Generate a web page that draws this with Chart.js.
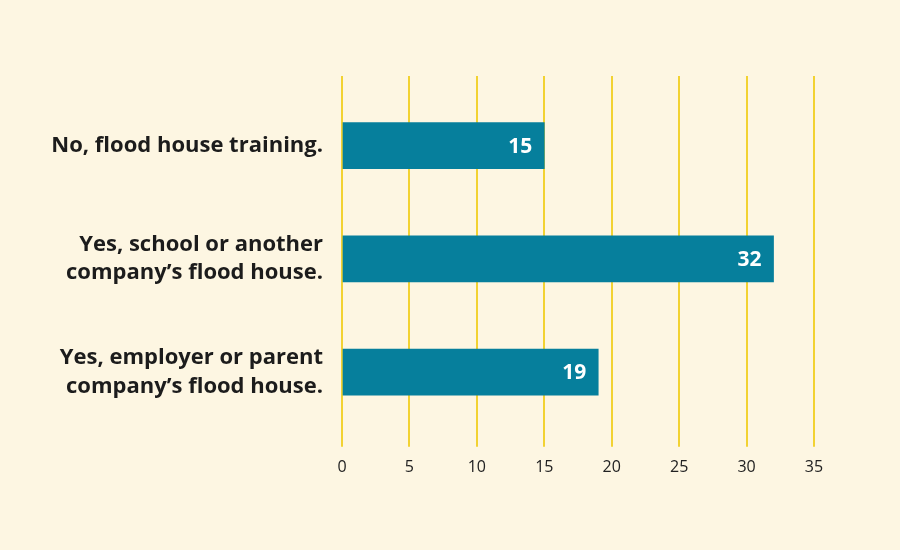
<!DOCTYPE html>
<html>
<head>
<meta charset="utf-8">
<script src="https://cdn.jsdelivr.net/npm/chart.js@4/dist/chart.umd.min.js"></script>
<style>
  html, body { margin: 0; padding: 0; background: #fdf6e2; }
  #wrap { width: 900px; height: 550px; position: relative; }
</style>
</head>
<body>
<div id="wrap"><canvas id="chart"></canvas></div>
<script>
// Flood house training survey - horizontal bars

const categories = [
  ["No, flood house training."],
  ["Yes, school or another", "company\u2019s flood house."],
  ["Yes, employer or parent", "company\u2019s flood house."],
];
const counts = [15, 32, 19];
const xTicks = [0, 5, 10, 15, 20, 25, 30, 35];

const labelFont = "'Open Sans', sans-serif";

// white value labels at the end of each bar
const valueLabels = {
  id: "valueLabels",
  afterDatasetsDraw(chart) {
    const ctx = chart.ctx;
    const meta = chart.getDatasetMeta(0);
    ctx.save();
    ctx.fillStyle = "#ffffff";
    ctx.font = "700 21px " + labelFont;
    ctx.textAlign = "right";
    ctx.textBaseline = "middle";
    meta.data.forEach((bar, i) => {
      ctx.fillText(String(counts[i]), bar.x - 12, bar.y + 1);
    });
    ctx.restore();
  },
};

new Chart(document.getElementById("chart"), {
  type: "bar",
  data: {
    labels: categories,
    datasets: [
      {
        data: counts,
        backgroundColor: "#067f9c",
        borderWidth: 0,
        barThickness: 46,
      },
    ],
  },
  plugins: [valueLabels],
  options: {
    indexAxis: "y",
    responsive: true,
    maintainAspectRatio: false,
    animation: false,
    layout: { padding: { top: 76, right: 86, bottom: 62, left: 0 } },
    plugins: {
      legend: { display: false },
      tooltip: { enabled: false },
    },
    scales: {
      x: {
        min: 0,
        max: 35,
        afterBuildTicks: (s) => { s.ticks = xTicks.map((v) => ({ value: v })); },
        grid: { color: "#f2d232", lineWidth: 2, tickLength: 18 },
        border: { display: false },
        ticks: { color: "#222222", font: { family: labelFont, size: 16 }, padding: 11 },
      },
      xTop: {
        axis: "x",
        position: "top",
        min: 0,
        max: 35,
        afterBuildTicks: (s) => { s.ticks = xTicks.map((v) => ({ value: v })); },
        grid: { color: "#f2d232", lineWidth: 2, tickLength: 13, drawOnChartArea: false },
        border: { display: false },
        ticks: { display: false },
      },
      y: {
        afterFit: (s) => { s.width = 342; },
        grid: { display: false, drawTicks: false },
        border: { display: false },
        ticks: {
          color: "#1c1c1c",
          padding: 19,
          font: { family: labelFont, size: 22, weight: "700", lineHeight: 1.3 },
        },
      },
    },
  },
});
</script>
</body>
</html>
